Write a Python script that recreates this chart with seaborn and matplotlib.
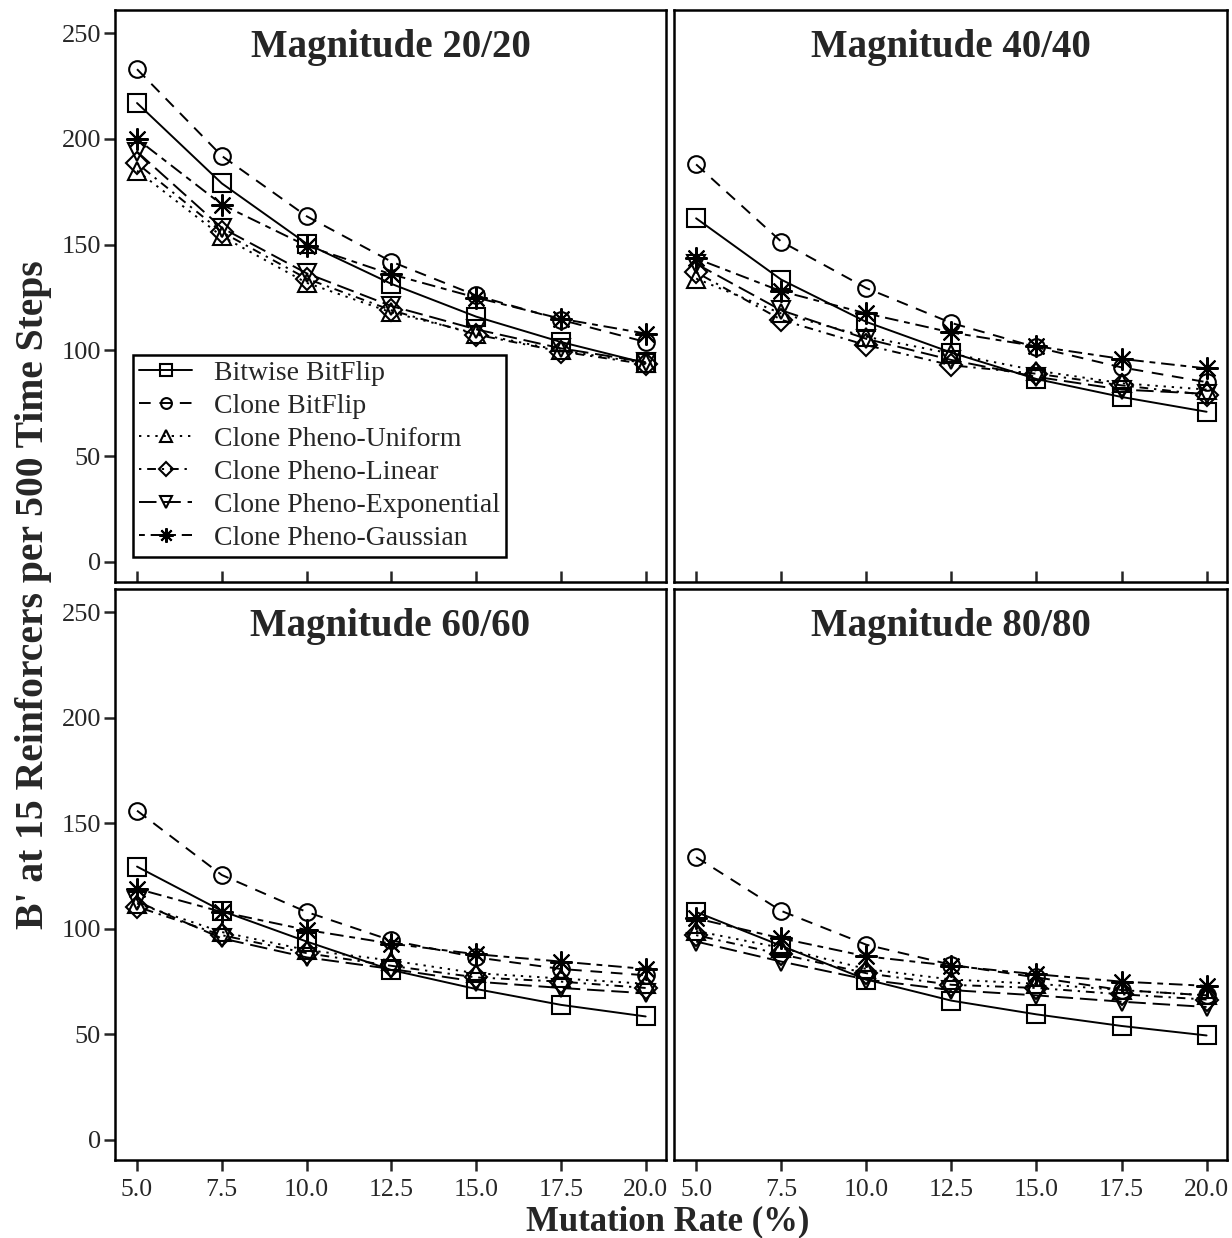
import numpy as np
import pandas as pd
import matplotlib
matplotlib.use("Agg")
import matplotlib.pyplot as plt
from matplotlib.lines import Line2D
import seaborn as sns

# ---------------- data ----------------
mutation_rate = [5.0, 7.5, 10.0, 12.5, 15.0, 17.5, 20.0]
x_tick_labels = ["5.0", "7.5", "10.0", "12.5", "15.0", "17.5", "20.0"]
y_ticks = [0, 50, 100, 150, 200, 250]

series_names = ["Bitwise BitFlip", "Clone BitFlip", "Clone Pheno-Uniform",
                "Clone Pheno-Linear", "Clone Pheno-Exponential", "Clone Pheno-Gaussian"]
panel_titles = ["Magnitude 20/20", "Magnitude 40/40", "Magnitude 60/60", "Magnitude 80/80"]

# Magnitude 20/20
m20_bitwise = [217, 179, 150.5, 131.5, 116, 104, 94]
m20_clone = [233, 192, 163.5, 142, 126, 114.5, 104]
m20_uniform = [185, 154, 132, 118, 108, 100, 94]
m20_linear = [188.5, 156, 134, 119, 107.5, 99.5, 93.5]
m20_expo = [194, 158, 136.5, 121, 110, 101, 94.5]
m20_gauss = [200, 169, 149.5, 136, 125, 115, 108]

# Magnitude 40/40
m40_bitwise = [162.5, 133.5, 113.5, 99, 86.5, 78, 71]
m40_clone = [188, 151.5, 129.5, 113, 101.5, 92, 85]
m40_uniform = [134, 117.5, 106.5, 98.5, 90.5, 84.5, 81.5]
m40_linear = [137, 114.5, 102.5, 93, 89, 83.5, 79]
m40_expo = [141, 119, 105.5, 95.5, 87.5, 81.5, 79.5]
m40_gauss = [143.5, 128, 117.5, 108.5, 102, 96, 91.5]

# Magnitude 60/60
m60_bitwise = [129.5, 108.5, 94, 80.5, 71.5, 64, 58.5]
m60_clone = [156, 125.5, 108, 94.5, 86.5, 81, 78]
m60_uniform = [112, 98.5, 90, 85, 79, 76.5, 74]
m60_linear = [110.5, 97, 88.5, 82.5, 77, 75, 72]
m60_expo = [113, 95.5, 86.5, 81, 75, 72, 69.5]
m60_gauss = [119, 108, 99.5, 93, 88, 84.5, 81]

# Magnitude 80/80
m80_bitwise = [108, 92, 76, 66, 59.5, 54, 49.5]
m80_clone = [134, 108.5, 92.5, 83, 77, 71, 68.5]
m80_uniform = [99, 91, 81, 76, 74, 71, 68.5]
m80_linear = [97, 88, 79, 73.5, 72, 69, 66.5]
m80_expo = [94, 84.5, 76, 71, 68.5, 65.5, 63]
m80_gauss = [105, 95.5, 87, 82.5, 78.5, 75, 73]

panels = [
    [m20_bitwise, m20_clone, m20_uniform, m20_linear, m20_expo, m20_gauss],
    [m40_bitwise, m40_clone, m40_uniform, m40_linear, m40_expo, m40_gauss],
    [m60_bitwise, m60_clone, m60_uniform, m60_linear, m60_expo, m60_gauss],
    [m80_bitwise, m80_clone, m80_uniform, m80_linear, m80_expo, m80_gauss],
]

rows = []
for title, vals in zip(panel_titles, panels):
    for name, ys in zip(series_names, vals):
        for xv, yv in zip(mutation_rate, ys):
            rows.append({"panel": title, "series": name, "rate": xv, "value": yv})
df = pd.DataFrame(rows)

# ---------------- styles ----------------
sns.set_style("ticks")
plt.rcParams["font.family"] = ["Liberation Serif", "DejaVu Serif"]

line_styles = {
    "Bitwise BitFlip": "-",
    "Clone BitFlip": (0, (6, 4.5)),
    "Clone Pheno-Uniform": (0, (1.2, 3)),
    "Clone Pheno-Linear": (0, (1.2, 3, 4.5, 3)),
    "Clone Pheno-Exponential": (0, (9, 3.5)),
    "Clone Pheno-Gaussian": (0, (3, 3, 7, 3)),
}
markers = {
    "Bitwise BitFlip": "s",
    "Clone BitFlip": "o",
    "Clone Pheno-Uniform": "^",
    "Clone Pheno-Linear": "D",
    "Clone Pheno-Exponential": "v",
    "Clone Pheno-Gaussian": (8, 2, 0),
}
marker_sizes = {
    "Bitwise BitFlip": 13,
    "Clone BitFlip": 12,
    "Clone Pheno-Uniform": 13,
    "Clone Pheno-Linear": 11,
    "Clone Pheno-Exponential": 13,
    "Clone Pheno-Gaussian": 16,
}

W, H = 1232, 1238
fig = plt.figure(figsize=(W / 100, H / 100), dpi=100)

def box(x0, y0, x1, y1):
    return [x0 / W, 1 - y1 / H, (x1 - x0) / W, (y1 - y0) / H]

rects = [box(115, 10, 666, 582), box(674, 10, 1227, 582),
         box(115, 589, 666, 1160), box(674, 589, 1227, 1160)]

axes = []
for i, (title, rect) in enumerate(zip(panel_titles, rects)):
    ax = fig.add_axes(rect)
    axes.append(ax)
    sub = df[df["panel"] == title]
    for name in series_names:
        d = sub[sub["series"] == name]
        sns.lineplot(data=d, x="rate", y="value", ax=ax, color="black",
                     linestyle=line_styles[name], lw=1.4,
                     marker=markers[name], markersize=marker_sizes[name],
                     markerfacecolor="none", markeredgecolor="black",
                     markeredgewidth=1.5, legend=False, errorbar=None)
    ax.set_xlim(4.35, 20.6)
    ax.set_ylim(-9.5, 261)
    ax.set_xlabel("")
    ax.set_ylabel("")
    for sp in ax.spines.values():
        sp.set_visible(True)
        sp.set_linewidth(1.8)
        sp.set_color("black")
    ax.set_xticks(mutation_rate)
    ax.set_yticks(y_ticks)
    bottom = i >= 2
    left = i % 2 == 0
    if bottom:
        ax.set_xticklabels(x_tick_labels)
        ax.tick_params(axis="x", direction="out", length=8, width=1.8,
                       labelsize=18.5, pad=6)
    else:
        ax.set_xticklabels([])
        ax.tick_params(axis="x", direction="in", length=8, width=1.8)
    if left:
        ax.set_yticklabels([str(v) for v in y_ticks])
        ax.tick_params(axis="y", direction="out", length=8, width=1.8,
                       labelsize=19, pad=2)
    else:
        ax.tick_params(axis="y", left=False, labelleft=False)
    ax.text(0.5, 0.918, title, transform=ax.transAxes, ha="center",
            va="baseline", fontsize=28, fontweight="bold")

# legend in first panel
handles = []
for name in series_names:
    handles.append(Line2D([0], [0], color="black", lw=1.4,
                          linestyle=line_styles[name], marker=markers[name],
                          markersize=marker_sizes[name] * 0.65,
                          markerfacecolor="none", markeredgecolor="black",
                          markeredgewidth=1.5))
leg = axes[0].legend(handles, series_names, loc="lower left",
                     bbox_to_anchor=((133 - 115) / 551, (582 - 557) / 572),
                     borderaxespad=0, fontsize=20, frameon=True,
                     fancybox=False, framealpha=1, edgecolor="black",
                     handlelength=1.9, handletextpad=0.8, labelspacing=0.27,
                     borderpad=0.22)
leg.get_frame().set_linewidth(1.8)

fig.text(0.027, 0.52, "B' at 15 Reinforcers per 500 Time Steps", rotation=90,
         ha="center", va="center", fontsize=28.5, fontweight="bold")
fig.text(0.542, 0.0, "Mutation Rate (%)", ha="center", va="bottom",
         fontsize=25, fontweight="bold")

fig.savefig("out.png", dpi=100)
